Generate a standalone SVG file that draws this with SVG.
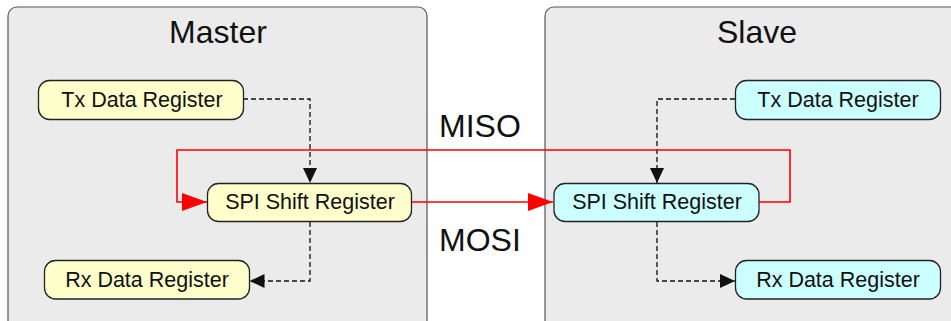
<svg xmlns="http://www.w3.org/2000/svg" width="951" height="321" viewBox="0 0 951 321">
<defs>
<style>
.panel{fill:#EBEBEB;stroke:#555;stroke-width:1.2}
.ym{fill:#FFFFCC;stroke:#222;stroke-width:1.3}
.cy{fill:#CCFFFF;stroke:#222;stroke-width:1.3}
.t{font-family:"Liberation Sans",Arial,sans-serif;font-size:21.5px;fill:#111;text-anchor:middle}
.big{font-family:"Liberation Sans",Arial,sans-serif;font-size:32px;fill:#111}
.dash{fill:none;stroke:#111;stroke-width:1.3;stroke-dasharray:5,3}
.red{fill:none;stroke:#FF0000;stroke-width:1.6}
</style>
<marker id="ab" markerWidth="15" markerHeight="14" refX="15" refY="7" orient="auto" markerUnits="userSpaceOnUse">
<path d="M0,0 L15,7 L0,14 Z" fill="#111"/>
</marker>
<marker id="ar" markerWidth="25" markerHeight="18" refX="25" refY="9" orient="auto" markerUnits="userSpaceOnUse">
<path d="M0,0 L25,9 L0,18 Z" fill="#FF0000"/>
</marker>
</defs>
<rect width="951" height="321" fill="#FFFFFF"/>
<g id="master">
<rect class="panel" x="8" y="7" width="419" height="330" rx="9"/>
<text class="big" x="218" y="43" text-anchor="middle">Master</text>
</g>
<g id="slave">
<rect class="panel" x="545" y="7" width="420" height="330" rx="9"/>
<text class="big" x="757" y="43" text-anchor="middle">Slave</text>
</g>
<g id="connectors">
<path class="dash" d="M243,99 H310 V183" marker-end="url(#ab)"/>
<path class="dash" d="M310,222 V281 H249.5" marker-end="url(#ab)"/>
<path class="dash" d="M735,99 H657 V183" marker-end="url(#ab)"/>
<path class="dash" d="M657,222 V281 H735" marker-end="url(#ab)"/>
<path class="red" d="M412,202 H553" marker-end="url(#ar)"/>
<path class="red" d="M759,202 H790 V150 H177 V202 H207" marker-end="url(#ar)"/>
<text class="big" x="439" y="137">MISO</text>
<text class="big" x="439" y="251">MOSI</text>
</g>
<g id="m-tx">
<rect class="ym" x="38.5" y="80.5" width="205" height="39" rx="11"/>
<text class="t" x="142" y="107">Tx Data Register</text>
</g>
<g id="m-spi">
<rect class="ym" x="207.5" y="183.5" width="204" height="38" rx="11"/>
<text class="t" x="310" y="209">SPI Shift Register</text>
</g>
<g id="m-rx">
<rect class="ym" x="44.5" y="260.5" width="205" height="38.5" rx="11"/>
<text class="t" x="147" y="287">Rx Data Register</text>
</g>
<g id="s-tx">
<rect class="cy" x="735.5" y="80.5" width="205" height="39" rx="11"/>
<text class="t" x="838" y="107">Tx Data Register</text>
</g>
<g id="s-spi">
<rect class="cy" x="554" y="183.5" width="205" height="38" rx="11"/>
<text class="t" x="657" y="209">SPI Shift Register</text>
</g>
<g id="s-rx">
<rect class="cy" x="735.5" y="260.5" width="205" height="38.5" rx="11"/>
<text class="t" x="838" y="287">Rx Data Register</text>
</g>
</svg>
